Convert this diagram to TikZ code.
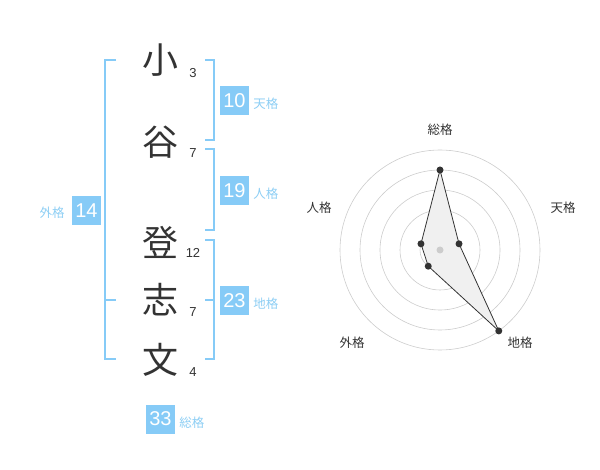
\documentclass[tikz,border=0pt]{standalone}
\usepackage{fontspec}
\setmainfont{Liberation Sans}
\newfontfamily\jp{Noto Sans CJK JP}
\usetikzlibrary{positioning}
\definecolor{kaku}{HTML}{86CBF7}
\definecolor{kakutext}{HTML}{8DCEF4}
\definecolor{ink}{HTML}{333333}

\begin{document}
\begin{tikzpicture}[x=1pt,y=-1pt,
    kanji/.style={font=\jp\fontsize{36}{36}\selectfont,text=ink,inner sep=0pt},
    strokes/.style={font=\fontsize{13}{13}\selectfont,text=ink,inner sep=0pt},
    score/.style={fill=kaku,text=white,minimum size=29pt,inner sep=0pt,
                  font=\fontsize{20}{20}\selectfont},
    kakuname/.style={font=\jp\fontsize{12.5}{12.5}\selectfont,text=kakutext,inner sep=0pt},
    axis/.style={font=\jp\fontsize{12.5}{12.5}\selectfont,text=ink,inner sep=0pt},
    bracket/.style={draw=kaku,line width=2pt},
    ring/.style={draw=black!20,line width=0.6pt}]

  \useasboundingbox (0,0) rectangle (600,470);

  % name, one character per line
  \node[kanji]   (one)   at (160,60)  {小};
  \node[kanji]   (two)   at (160,142) {谷};
  \node[kanji]   (thr)   at (160,242) {登};
  \node[kanji]   (fou)   at (160,300) {志};
  \node[kanji]   (fiv)   at (160,360) {文};

  \node[strokes] (n1) at (193,73)  {3};
  \node[strokes] (n2) at (193,153) {7};
  \node[strokes] (n3) at (193,253) {12};
  \node[strokes] (n4) at (193,312) {7};
  \node[strokes] (n5) at (193,372) {4};

  % brackets
  \draw[bracket] (116,60) -- (105,60) -- (105,359) -- (116,359);
  \draw[bracket] (105,300) -- (116,300);
  \draw[bracket] (205,60) -- (214,60) -- (214,140) -- (205,140);
  \draw[bracket] (205,149) -- (214,149) -- (214,230) -- (205,230);
  \draw[bracket] (205,240) -- (214,240) -- (214,359) -- (205,359);
  \draw[bracket] (205,300) -- (214,300);

  % scores
  \node[score] (ten) at (234.5,100.5) {10};
  \node[kakuname, right=4pt of ten, yshift=-3.5pt] (tenl) {天格};
  \node[score] (jin) at (234.5,190.5) {19};
  \node[kakuname, right=4pt of jin, yshift=-3.5pt] (jinl) {人格};
  \node[score] (chi) at (234.5,300.5) {23};
  \node[kakuname, right=4pt of chi, yshift=-3.5pt] (chil) {地格};
  \node[score] (gai) at (86.5,210.5)  {14};
  \node[kakuname, left=7pt of gai, yshift=-2.5pt]  (gail) {外格};
  \node[score] (sou) at (160.5,419)   {33};
  \node[kakuname, right=4pt of sou, yshift=-4pt]   (soul) {総格};

  % radar
  \begin{scope}[shift={(440,250)},y={(0pt,1pt)}]
    \foreach \r in {20,40,60,80,100}
      \draw[ring] (0,0) circle (\r pt);
    \coordinate (rsou) at (90:80);
    \coordinate (rten) at (18:20);
    \coordinate (rchi) at (-54:100);
    \coordinate (rgai) at (-126:20);
    \coordinate (rjin) at (162:20);
    \filldraw[fill=black!6,draw=ink,line width=0.8pt]
      (rsou) -- (rten) -- (rchi) -- (rgai) -- (rjin) -- cycle;
    \fill[black!20] (0,0) circle (3.5pt);
    \foreach \p in {rsou,rten,rchi,rgai,rjin}
      \fill[ink] (\p) circle (3.5pt);
  \end{scope}

  \node[axis] (asou) at (440,130) {総格};
  \node[axis] (aten) at (563,208) {天格};
  \node[axis] (achi) at (520,343) {地格};
  \node[axis] (agai) at (352,343) {外格};
  \node[axis] (ajin) at (319,208) {人格};
\end{tikzpicture}
\end{document}
